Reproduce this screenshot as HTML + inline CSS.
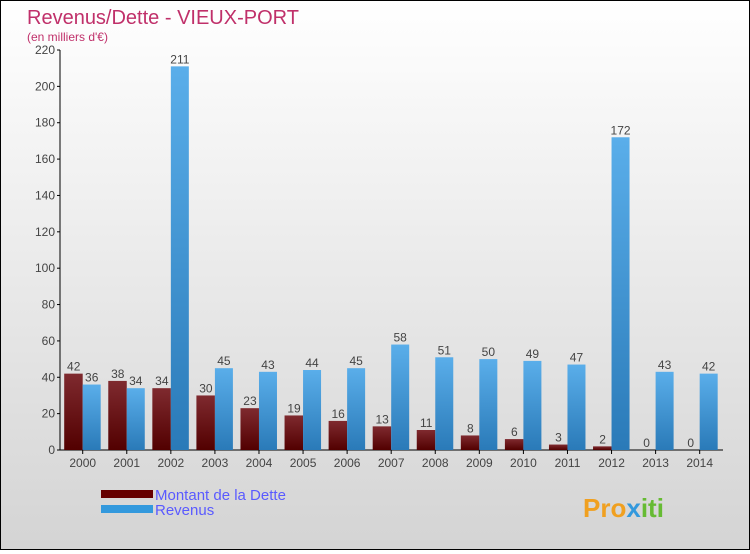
<!DOCTYPE html>
<html><head><meta charset="utf-8"><style>
html,body{margin:0;padding:0}
body{width:750px;height:550px;overflow:hidden;font-family:"Liberation Sans",sans-serif}
#c{position:absolute;left:0;top:0;width:748px;height:548px;border:1px solid #000;background:linear-gradient(#ffffff,#d4d4d4)}
</style></head><body>
<div id="c">
<svg id="s" width="748" height="548">
<defs>
<linearGradient id="gd" x1="0" y1="0" x2="0" y2="1"><stop offset="0" stop-color="#7f2a2f"/><stop offset="1" stop-color="#520000"/></linearGradient>
<linearGradient id="gr" x1="0" y1="0" x2="0" y2="1"><stop offset="0" stop-color="#5aaeea"/><stop offset="1" stop-color="#2a7ab8"/></linearGradient>
</defs>
<text x="26" y="23" font-size="20" fill="#c0306a">Revenus/Dette - VIEUX-PORT</text>
<text x="26" y="40" font-size="12" fill="#c0306a">(en milliers d'€)</text>
<g id="plot"></g>
<rect x="100" y="489" width="52" height="8" fill="#660000"/>
<text x="154" y="499" font-size="15" fill="#5a5aff">Montant de la Dette</text>
<rect x="100" y="504" width="52" height="8" fill="#3399dd"/>
<text x="154" y="514" font-size="15" fill="#5a5aff">Revenus</text>
<text x="582" y="516" font-size="26" font-weight="bold" fill="#f0a020">Pro<tspan fill="#3399dd">x</tspan><tspan fill="#66bb33">iti</tspan></text>
</svg>
</div>
<script>
const years=["2000","2001","2002","2003","2004","2005","2006","2007","2008","2009","2010","2011","2012","2013","2014"];
const dette=[42,38,34,30,23,19,16,13,11,8,6,3,2,0,0];
const revenus=[36,34,211,45,43,44,45,58,51,50,49,47,172,43,42];
const yTicks=[0,20,40,60,80,100,120,140,160,180,200,220];
const NS="http://www.w3.org/2000/svg";
const g=document.getElementById('plot');
const y=v=>449-v*(400/220);
const xc=i=>81.7+i*44.07;
function mk(t,a){const e=document.createElementNS(NS,t);for(const k in a)e.setAttribute(k,a[k]);g.appendChild(e);return e;}
let ax=mk('line',{x1:59,y1:49,x2:59,y2:449,stroke:'#000'});


let bx=mk('line',{x1:59,y1:449,x2:722,y2:449,stroke:'#000'});


yTicks.forEach(v=>{
 mk('line',{x1:56,y1:y(v),x2:59,y2:y(v),stroke:'#000'});
 const t=mk('text',{x:54,y:y(v)+4,'font-size':12,'text-anchor':'end',fill:'#444'});t.textContent=v;
 
 
});
years.forEach((yr,i)=>{
 const c=xc(i);
 mk('line',{x1:c,y1:449,x2:c,y2:453,stroke:'#000'});
 const t=mk('text',{x:c,y:466,'font-size':12,'text-anchor':'middle',fill:'#444'});t.textContent=yr;
 
 
 const d=mk('rect',{x:c-18.5,y:y(dette[i]),width:18.5,height:449-y(dette[i]),fill:'url(#gd)'});
 
 
 const r=mk('rect',{x:c,y:y(revenus[i]),width:18,height:449-y(revenus[i]),fill:'url(#gr)'});
 
 
 const l1=mk('text',{x:c-9,y:y(dette[i])-3,'font-size':12,'text-anchor':'middle',fill:'#444'});l1.textContent=dette[i];
 
 
 const l2=mk('text',{x:c+9,y:y(revenus[i])-3,'font-size':12,'text-anchor':'middle',fill:'#444'});l2.textContent=revenus[i];
 
 
});
</script>
</body></html>
